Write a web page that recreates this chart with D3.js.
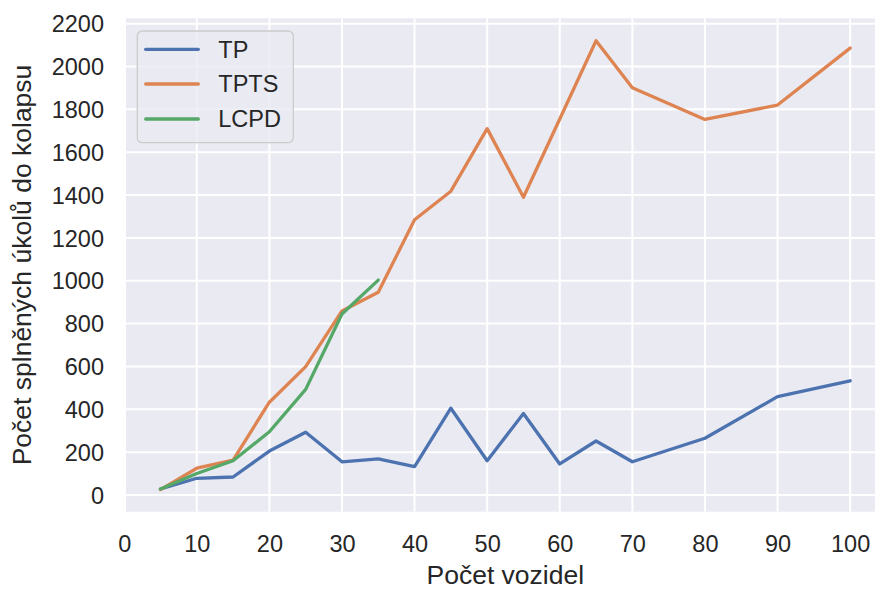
<!DOCTYPE html>
<html>
<head>
<meta charset="utf-8">
<script src="https://cdn.jsdelivr.net/npm/d3@7"></script>
<style>
  html, body { margin: 0; padding: 0; background: #ffffff; }
  svg { display: block; }
  text { font-family: "Liberation Sans", Arial, "DejaVu Sans", sans-serif; fill: #262626; }
</style>
</head>
<body>
<svg id="chart" width="875" height="589"></svg>
<script>
// ---- Data ----
const vehiclesTP = [5, 10, 15, 20, 25, 30, 35, 40, 45, 50, 55, 60, 65, 70, 80, 90, 100];
const valuesTP   = [28, 78, 84, 205, 293, 155, 169, 132, 405, 160, 380, 145, 252, 155, 265, 459, 533];
const vehiclesTPTS = [5, 10, 15, 20, 25, 30, 35, 40, 45, 50, 55, 60, 65, 70, 80, 90, 100];
const valuesTPTS   = [25, 125, 163, 433, 599, 859, 946, 1285, 1418, 1710, 1390, 1755, 2120, 1901, 1753, 1820, 2086];
const vehiclesLCPD = [5, 10, 15, 20, 25, 30, 35];
const valuesLCPD   = [28, 100, 160, 295, 493, 845, 1003];
const seriesNames  = ["TP", "TPTS", "LCPD"];
const seriesColors = ["#4c72b0", "#dd8452", "#55a868"];
const xTickValues = [0, 10, 20, 30, 40, 50, 60, 70, 80, 90, 100];
const yTickValues = [0, 200, 400, 600, 800, 1000, 1200, 1400, 1600, 1800, 2000, 2200];
const xLabel = "Počet vozidel";
const yLabel = "Počet splněných úkolů do kolapsu";

const series = [
  { name: seriesNames[0], xs: vehiclesTP, ys: valuesTP, color: seriesColors[0] },
  { name: seriesNames[1], xs: vehiclesTPTS, ys: valuesTPTS, color: seriesColors[1] },
  { name: seriesNames[2], xs: vehiclesLCPD, ys: valuesLCPD, color: seriesColors[2] }
];

// ---- Layout ----
const svg = d3.select("#chart");
const pLeft = 126, pRight = 884.6, pTop = 18.3, pBottom = 511.7;

const x = d3.scaleLinear().domain([0.25, 104.75]).range([pLeft, pRight]);
const y = d3.scaleLinear().domain([-78, 2225]).range([pBottom, pTop]);

svg.append("defs").append("clipPath").attr("id", "plotclip")
  .append("rect").attr("x", pLeft).attr("y", pTop)
  .attr("width", pRight - pLeft).attr("height", pBottom - pTop);

// background
svg.append("rect").attr("x", pLeft).attr("y", pTop)
  .attr("width", pRight - pLeft).attr("height", pBottom - pTop)
  .attr("fill", "#eaeaf2");

const plot = svg.append("g").attr("clip-path", "url(#plotclip)");

// grid
plot.selectAll("line.vgrid").data(xTickValues).enter().append("line")
  .attr("class", "vgrid")
  .attr("x1", d => x(d)).attr("x2", d => x(d))
  .attr("y1", pTop).attr("y2", pBottom)
  .attr("stroke", "#ffffff").attr("stroke-width", 2);
plot.selectAll("line.hgrid").data(yTickValues).enter().append("line")
  .attr("class", "hgrid")
  .attr("x1", pLeft).attr("x2", pRight)
  .attr("y1", d => y(d)).attr("y2", d => y(d))
  .attr("stroke", "#ffffff").attr("stroke-width", 2);

// lines
const line = d3.line().x(d => x(d[0])).y(d => y(d[1]));
series.forEach(s => {
  plot.append("path")
    .datum(s.xs.map((v, i) => [v, s.ys[i]]))
    .attr("d", line)
    .attr("fill", "none")
    .attr("stroke", s.color)
    .attr("stroke-width", 3.3)
    .attr("stroke-linejoin", "round")
    .attr("stroke-linecap", "round");
});

// axes
const xAxis = d3.axisBottom(x).tickValues(xTickValues).tickFormat(d3.format("d")).tickSize(0).tickPadding(0);
const gx = svg.append("g").attr("transform", `translate(0,${pBottom})`).call(xAxis);
gx.select(".domain").remove();
gx.selectAll("text").attr("font-size", 23.5).attr("dy", 0).attr("y", 40)
  .style("font-family", '"Liberation Sans", Arial, sans-serif').attr("fill", "#262626");

const yAxis = d3.axisLeft(y).tickValues(yTickValues).tickFormat(d3.format("d")).tickSize(0).tickPadding(0);
const gy = svg.append("g").attr("transform", `translate(104,0)`).call(yAxis);
gy.select(".domain").remove();
gy.selectAll("text").attr("font-size", 23.5).attr("x", 0).attr("dy", "0.35em")
  .style("font-family", '"Liberation Sans", Arial, sans-serif').attr("fill", "#262626");

// axis labels
svg.append("text").attr("x", (pLeft + pRight) / 2).attr("y", 584)
  .attr("text-anchor", "middle").attr("font-size", 26.5).text(xLabel);
svg.append("text")
  .attr("transform", `translate(31,${(pTop + pBottom) / 2}) rotate(-90)`)
  .attr("text-anchor", "middle").attr("font-size", 26.5).text(yLabel);

// legend
const lg = svg.append("g");
lg.append("rect").attr("x", 137.3).attr("y", 31).attr("width", 156).attr("height", 111.7)
  .attr("rx", 5).attr("ry", 5)
  .attr("fill", "#eaeaf2").attr("fill-opacity", 0.8)
  .attr("stroke", "#cccccc").attr("stroke-width", 1.3);
const legendYs = [49.3, 84, 119];
series.forEach((s, i) => {
  lg.append("line").attr("x1", 145.7).attr("x2", 198.3)
    .attr("y1", legendYs[i]).attr("y2", legendYs[i])
    .attr("stroke", s.color).attr("stroke-width", 3.3).attr("stroke-linecap", "round");
  lg.append("text").attr("x", 218.3).attr("y", legendYs[i]).attr("dy", "0.36em")
    .attr("font-size", 23.5).text(s.name);
});
</script>
</body>
</html>
